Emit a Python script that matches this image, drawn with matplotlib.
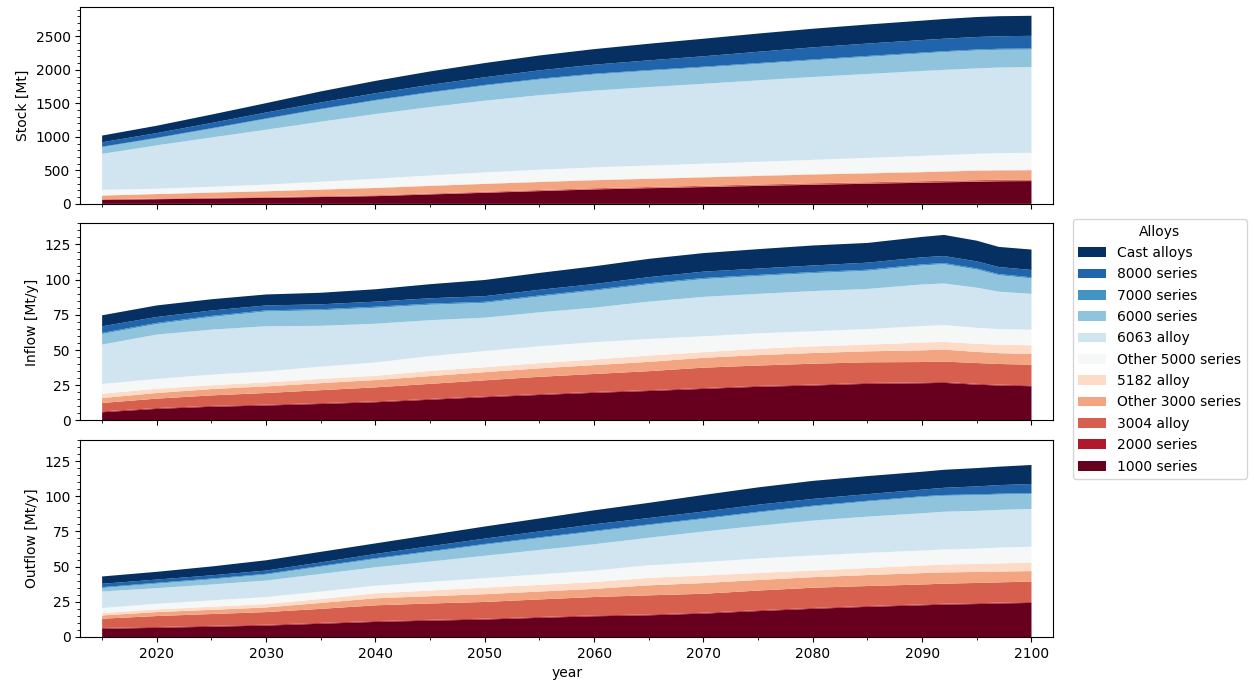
import numpy as np
import matplotlib
matplotlib.use("Agg")
import matplotlib.pyplot as plt
from matplotlib.ticker import MultipleLocator

years = [2015, 2020, 2025, 2030, 2035, 2040, 2045, 2050, 2055, 2060,
         2065, 2070, 2075, 2080, 2085, 2090, 2092, 2095, 2097, 2100]

alloys = ["1000 series", "2000 series", "3004 alloy", "Other 3000 series",
          "5182 alloy", "Other 5000 series", "6063 alloy", "6000 series",
          "7000 series", "8000 series", "Cast alloys"]

# stock [Mt], one list per alloy (bottom to top)
stock_1000 = [60, 69, 80, 90, 102, 115, 140, 165, 190, 215, 233, 250, 268, 285, 300, 315, 321, 330, 336, 340]
stock_2000 = [2, 2, 2, 2, 3, 3, 3, 3, 3, 3, 4, 4, 4, 4, 4, 4, 4, 4, 4, 4]
stock_3004 = [8, 9, 9, 10, 10, 11, 12, 13, 14, 15, 15, 16, 17, 18, 18, 19, 19, 20, 20, 20]
stock_o3000 = [54, 66, 77, 86, 98, 108, 113, 117, 119, 120, 122, 125, 128, 131, 133, 135, 138, 141, 140, 138]
stock_5182 = [4, 4, 5, 5, 5, 6, 6, 6, 7, 7, 7, 8, 8, 8, 9, 9, 9, 9, 10, 10]
stock_o5000 = [80, 76, 83, 95, 113, 132, 150, 165, 176, 185, 191, 196, 203, 211, 222, 234, 238, 243, 247, 250]
stock_6063 = [538, 647, 734, 818, 895, 965, 1020, 1070, 1112, 1145, 1170, 1192, 1215, 1236, 1252, 1266, 1270, 1274, 1277, 1279]
stock_6000 = [99, 105, 130, 160, 182, 200, 213, 224, 234, 240, 242, 243, 245, 248, 255, 262, 265, 268, 265, 262]
stock_7000 = [8, 8, 9, 9, 10, 10, 11, 11, 12, 12, 12, 13, 13, 14, 14, 14, 14, 15, 15, 15]
stock_8000 = [66, 70, 78, 88, 95, 100, 108, 115, 125, 135, 145, 155, 168, 180, 185, 186, 186, 186, 187, 189]
stock_cast = [100, 110, 125, 140, 165, 185, 200, 212, 222, 232, 248, 262, 272, 278, 284, 290, 294, 298, 299, 299]

# inflow [Mt/y]
in_1000 = [5.8, 8.2, 9.7, 10.6, 11.7, 12.9, 14.7, 16.5, 18.1, 19.6, 20.9, 22.4, 23.9, 24.8, 26.0, 26.4, 26.7, 25.4, 24.8, 24.3]
in_2000 = [0.6, 0.6, 0.6, 0.6, 0.6, 0.6, 0.6, 0.6, 0.6, 0.6, 0.6, 0.6, 0.6, 0.6, 0.6, 0.6, 0.6, 0.6, 0.6, 0.6]
in_3004 = [6.0, 6.7, 7.5, 8.3, 9.2, 10.0, 10.7, 11.4, 12.3, 12.8, 13.5, 14.5, 14.5, 14.9, 14.7, 14.5, 14.5, 14.8, 14.7, 14.7]
in_o3000 = [3.5, 4.0, 4.5, 4.7, 5.0, 5.2, 5.5, 5.8, 6.0, 6.3, 6.6, 7.0, 7.4, 7.6, 7.8, 8.3, 8.5, 7.9, 7.7, 7.6]
in_5182 = [3.1, 3.0, 2.7, 2.8, 3.0, 3.0, 3.7, 3.5, 3.7, 4.0, 4.5, 4.0, 4.5, 4.7, 4.8, 5.5, 5.5, 5.7, 6.0, 6.2]
in_o5000 = [6.9, 7.0, 7.5, 7.9, 8.7, 9.5, 10.5, 11.5, 12.0, 12.3, 11.8, 11.3, 11.0, 10.8, 11.0, 11.8, 12.0, 11.4, 11.1, 11.1]
in_6063 = [28.0, 31.5, 32.0, 32.0, 29.0, 27.5, 25.5, 23.7, 24.1, 24.5, 26.5, 28.0, 28.0, 28.5, 28.5, 29.5, 29.5, 28.5, 26.6, 25.4]
in_6000 = [7.5, 7.5, 9.0, 10.5, 11.0, 11.3, 11.0, 10.5, 11.2, 12.0, 12.3, 12.6, 12.7, 12.7, 12.9, 13.5, 13.7, 12.9, 11.7, 11.0]
in_7000 = [0.8, 0.8, 0.8, 0.8, 0.8, 0.8, 0.8, 0.8, 0.8, 0.8, 0.8, 0.8, 0.8, 0.8, 0.8, 0.8, 0.8, 0.8, 0.8, 0.8]
in_8000 = [4.7, 4.2, 3.8, 3.5, 3.5, 3.6, 3.8, 4.0, 4.0, 4.0, 4.3, 4.5, 4.5, 4.7, 5.0, 5.0, 5.0, 5.0, 5.0, 5.2]
in_cast = [7.8, 8.2, 8.0, 7.8, 8.2, 8.8, 10.0, 11.5, 12.0, 12.6, 13.0, 13.2, 13.8, 14.2, 14.0, 14.5, 15.0, 14.7, 14.3, 14.5]

# outflow [Mt/y]
out_1000 = [5.8, 6.5, 7.3, 8.1, 9.4, 10.7, 11.6, 12.4, 13.6, 14.7, 15.4, 16.6, 18.4, 20.0, 21.4, 22.5, 23.0, 23.4, 23.8, 24.2]
out_2000 = [0.6, 0.6, 0.6, 0.6, 0.6, 0.6, 0.6, 0.6, 0.6, 0.6, 0.6, 0.6, 0.6, 0.6, 0.6, 0.6, 0.6, 0.6, 0.6, 0.6]
out_3004 = [6.6, 7.8, 8.4, 9.0, 10.0, 11.2, 11.6, 11.9, 12.5, 13.1, 13.6, 13.5, 14.0, 14.4, 14.2, 14.2, 14.3, 14.4, 14.4, 14.6]
out_o3000 = [2.3, 2.8, 3.0, 3.3, 4.2, 5.0, 5.2, 5.5, 5.6, 5.8, 7.1, 7.6, 7.5, 7.5, 7.8, 8.1, 8.0, 7.8, 7.7, 7.4]
out_5182 = [1.7, 1.9, 2.2, 2.4, 2.8, 3.5, 4.0, 4.7, 4.7, 4.8, 5.3, 5.4, 5.0, 4.7, 5.0, 5.4, 5.6, 5.7, 5.8, 5.9]
out_o5000 = [3.6, 4.0, 4.5, 5.0, 5.3, 5.5, 6.2, 6.7, 7.5, 8.2, 9.0, 9.5, 10.3, 10.7, 10.8, 10.6, 10.7, 10.9, 11.2, 11.5]
out_6063 = [11.7, 11.1, 11.3, 11.7, 12.5, 13.0, 14.4, 15.9, 17.3, 18.7, 19.5, 21.7, 23.2, 24.8, 25.7, 26.5, 26.8, 26.8, 26.8, 26.8]
out_6000 = [2.5, 3.2, 3.6, 4.2, 5.1, 5.9, 6.8, 7.8, 8.4, 8.9, 8.9, 8.9, 9.4, 10.0, 10.7, 11.5, 11.3, 11.1, 10.9, 10.7]
out_7000 = [0.6, 0.6, 0.6, 0.6, 0.6, 0.6, 0.6, 0.6, 0.6, 0.6, 0.6, 0.6, 0.6, 0.6, 0.6, 0.6, 0.6, 0.6, 0.6, 0.6]
out_8000 = [2.4, 2.3, 2.3, 2.3, 2.5, 3.0, 3.5, 3.8, 4.2, 4.7, 4.5, 4.7, 5.0, 4.8, 4.7, 4.7, 5.1, 5.7, 6.1, 6.4]
out_cast = [5.2, 5.5, 6.3, 7.3, 7.5, 7.5, 8.0, 8.6, 9.2, 9.9, 10.8, 11.8, 12.3, 12.8, 12.8, 12.7, 12.8, 13.0, 13.1, 13.5]

stock = [stock_1000, stock_2000, stock_3004, stock_o3000, stock_5182, stock_o5000,
         stock_6063, stock_6000, stock_7000, stock_8000, stock_cast]
inflow = [in_1000, in_2000, in_3004, in_o3000, in_5182, in_o5000,
          in_6063, in_6000, in_7000, in_8000, in_cast]
outflow = [out_1000, out_2000, out_3004, out_o3000, out_5182, out_o5000,
           out_6063, out_6000, out_7000, out_8000, out_cast]

cmap = plt.get_cmap("RdBu")
colors = [cmap(i / 10) for i in range(11)]

fig, axes = plt.subplots(3, 1, figsize=(12.54, 6.82), dpi=100, sharex=True)
fig.subplots_adjust(left=0.064, right=0.84, top=0.99, bottom=0.066, hspace=0.099)

panels = [(stock, "Stock [Mt]", 2940, 500, 100),
          (inflow, "Inflow [Mt/y]", 140, 25, 5),
          (outflow, "Outflow [Mt/y]", 140, 25, 5)]

for ax, (data, label, top, major, minor) in zip(axes, panels):
    ax.stackplot(years, data, colors=colors, labels=alloys, linewidth=0)
    ax.set_ylabel(label)
    ax.set_ylim(0, top)
    ax.yaxis.set_major_locator(MultipleLocator(major))
    ax.yaxis.set_minor_locator(MultipleLocator(minor))

axes[-1].set_xlim(2013, 2102)
axes[-1].xaxis.set_major_locator(MultipleLocator(10))
axes[-1].xaxis.set_minor_locator(MultipleLocator(5))
axes[-1].set_xlabel("year")

handles, labels = axes[0].get_legend_handles_labels()
fig.legend(handles[::-1], labels[::-1], title="Alloys", loc="upper left",
           bbox_to_anchor=(0.85, 0.689), bbox_transform=fig.transFigure,
           labelspacing=0.53)

fig.savefig("out.png", dpi=100)
